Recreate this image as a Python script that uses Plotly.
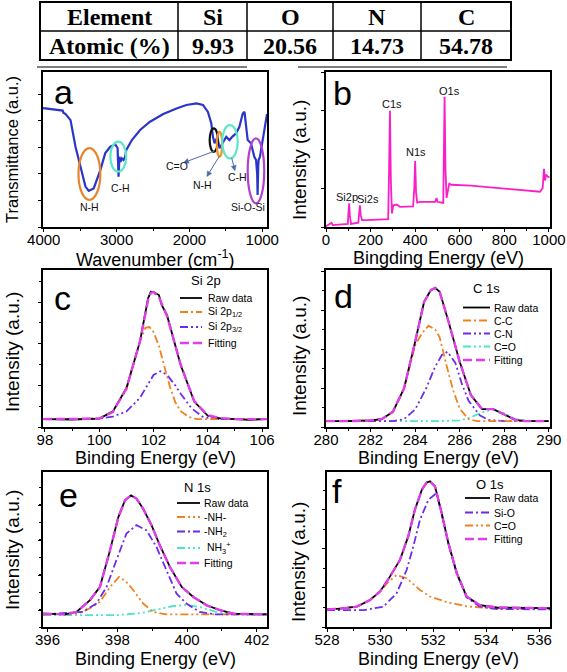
import math
import plotly.graph_objects as go

W, H = 567, 672
FONT = "Liberation Sans, Arial, sans-serif"
SERIF = "Liberation Serif, Times New Roman, serif"

# ---------------- table ----------------
table_header = ["Element", "Si", "O", "N", "C"]
table_row = ["Atomic (%)", "9.93", "20.56", "14.73", "54.78"]

# ---------------- (a) FTIR ----------------
ftir_wn = [4010, 3768, 3740, 3730, 3700, 3632, 3564, 3495, 3427, 3382, 3314, 3223, 3155, 3086, 3018,
           2986, 2973, 2960, 2946, 2927, 2905, 2882, 2868, 2790, 2677, 2541, 2359, 2177, 2041, 1904,
           1814, 1746, 1700, 1677, 1655, 1630, 1609, 1586, 1541, 1495, 1450, 1413, 1359, 1314, 1268,
           1244, 1200, 1155, 1109, 1085, 1070, 1064, 1055, 1050, 1032, 995, 950, 935]
ftir_t = [4.47, 4.40, 4.38, 4.30, 4.25, 4.02, 3.02, 2.27, 1.52, 1.36, 1.45, 2.14, 2.78, 3.02, 3.11,
          2.97, 1.89, 2.64, 2.45, 2.58, 2.52, 2.64, 2.89, 3.27, 3.65, 3.96, 4.25, 4.46, 4.59, 4.65,
          4.59, 4.33, 3.90, 3.39, 3.15, 3.30, 3.27, 2.96, 3.15, 3.39, 3.27, 3.39, 3.52, 3.77, 4.27,
          4.33, 3.27, 3.15, 2.64, 2.52, 2.00, 1.20, 2.30, 2.52, 2.64, 3.27, 4.10, 4.25]
ftir_labels = ["N-H", "C-H", "C=O", "N-H", "C-H", "Si-O-Si"]
ftir_label_wn = [3372, 2950, 2172, 1817, 1340, 1200]
ftir_label_t = [0.76, 1.47, 2.29, 1.58, 1.88, 0.75]
# ellipses: wn0, wn1, t0, t1, colour
ftir_ellipses = [(3523, 3223, 1.02, 2.97, "#e8842a"),
                 (3086, 2868, 2.08, 3.21, "#5ce8c8"),
                 (1722, 1609, 2.83, 3.71, "#111111"),
                 (1623, 1550, 2.64, 3.58, "#f0902a"),
                 (1550, 1336, 2.58, 3.83, "#5ce8c8"),
                 (1200, 973, 0.89, 3.33, "#b040d0")]
# arrows: head (wn, t), tail (wn, t)
ftir_arrows = [((2080, 2.42), (1660, 2.85)),
               ((1760, 1.90), (1590, 2.66)),
               ((1375, 2.12), (1420, 2.60))]

# ---------------- (b) survey ----------------
surv_be = [0, 3, 20, 25, 30, 60, 98, 101, 104, 107, 112, 145, 149, 152, 156, 162, 182, 230, 279, 283,
           287, 291, 296, 302, 317, 332, 391, 396, 400, 404, 409, 421, 470, 490, 496, 500, 526, 529,
           532, 536, 541, 553, 562, 650, 735, 850, 960, 972, 978, 983, 987, 997, 1003]
surv_i = [0.02, 0.03, 0.08, 0.11, 0.05, 0.06, 0.08, 0.40, 0.61, 0.30, 0.08, 0.11, 0.40, 0.56, 0.30,
          0.18, 0.18, 0.19, 0.20, 1.50, 3.00, 1.20, 0.35, 0.56, 0.58, 0.52, 0.53, 1.00, 1.70, 0.90,
          0.63, 0.65, 0.66, 0.65, 0.75, 0.65, 0.62, 2.00, 3.36, 1.50, 0.75, 1.12, 1.09, 1.07, 1.03,
          0.98, 0.91, 1.00, 1.50, 1.20, 1.35, 1.29, 1.30]
surv_labels = ["Si2p", "Si2s", "C1s", "N1s", "O1s"]
surv_label_be = [93, 190, 295, 404, 553]
surv_label_i = [0.78, 0.71, 3.17, 1.93, 3.51]

# ---------------- (c) Si 2p ----------------
si_be = [97.93, 99.0, 100.0, 100.5, 101.0, 101.5, 101.8, 101.9, 102.0, 102.2, 102.3, 102.5, 103.0,
         103.5, 104.0, 104.5, 105.0, 105.5, 106.18]
si_raw = [0.19, 0.18, 0.20, 0.37, 0.93, 2.05, 3.09, 3.25, 3.24, 3.17, 2.93, 2.68, 1.49, 0.61, 0.27,
          0.20, 0.19, 0.17, 0.19]
si_fit = [0.19, 0.19, 0.20, 0.36, 0.92, 2.05, 3.05, 3.22, 3.24, 3.12, 2.98, 2.66, 1.50, 0.62, 0.28,
          0.21, 0.19, 0.19, 0.19]
si_p12_be = [97.93, 100.0, 100.5, 101.0, 101.3, 101.5, 101.7, 101.85, 102.0, 102.2, 102.4, 102.6,
             102.8, 103.0, 103.3, 103.6, 106.18]
si_p12 = [0.19, 0.20, 0.38, 0.90, 1.60, 2.05, 2.38, 2.40, 2.28, 1.95, 1.45, 0.98, 0.60, 0.38, 0.24,
          0.19, 0.19]
si_p32_be = [97.93, 100.0, 100.5, 101.0, 101.5, 101.8, 102.0, 102.25, 102.5, 102.8, 103.0, 103.4,
             103.8, 104.2, 106.18]
si_p32 = [0.19, 0.20, 0.25, 0.37, 0.70, 1.05, 1.25, 1.34, 1.25, 1.00, 0.80, 0.45, 0.25, 0.19, 0.19]

# ---------------- (d) C 1s ----------------
c_be = [280, 281, 282, 282.5, 283, 283.5, 284, 284.4, 284.7, 284.9, 285.1, 285.5, 286, 286.5, 287,
        287.5, 288, 288.5, 289, 290]
c_raw = [0.15, 0.15, 0.17, 0.20, 0.39, 0.99, 2.19, 3.21, 3.51, 3.57, 3.47, 2.70, 1.67, 0.82, 0.46,
         0.46, 0.32, 0.18, 0.15, 0.15]
c_cc_be = [280, 282, 282.5, 283, 283.5, 284, 284.3, 284.6, 284.9, 285.1, 285.4, 285.7, 286.0, 286.4,
           286.8, 290]
c_cc = [0.15, 0.17, 0.20, 0.39, 0.98, 2.10, 2.40, 2.60, 2.50, 2.30, 1.60, 0.95, 0.47, 0.20, 0.15, 0.15]
c_cn_be = [280, 283, 283.5, 284, 284.5, 284.9, 285.2, 285.45, 285.8, 286.1, 286.4, 286.9, 287.3, 288, 290]
c_cn = [0.15, 0.15, 0.20, 0.45, 1.00, 1.55, 1.85, 1.93, 1.65, 1.10, 0.67, 0.30, 0.18, 0.15, 0.15]
c_co_be = [280, 285, 286, 286.5, 287, 287.5, 288, 288.5, 289, 290]
c_co = [0.15, 0.15, 0.17, 0.25, 0.38, 0.45, 0.35, 0.20, 0.16, 0.15]

# ---------------- (e) N 1s ----------------
n_be = [395.87, 396.5, 396.83, 397.21, 397.5, 397.79, 398.03, 398.22, 398.39, 398.55, 398.74, 398.98,
        399.22, 399.51, 399.85, 400.18, 400.56, 400.94, 401.33, 401.9, 402.29]
n_raw = [0.38, 0.36, 0.43, 0.76, 1.14, 2.19, 3.14, 3.62, 3.76, 3.67, 3.38, 2.91, 2.33, 1.71, 1.14,
         0.86, 0.62, 0.48, 0.38, 0.38, 0.36]
n_nh_be = [395.87, 396.8, 397.0, 397.3, 397.5, 397.8, 398.05, 398.25, 398.46, 398.74, 399.03, 399.4, 402.29]
n_nh = [0.36, 0.38, 0.43, 0.58, 0.72, 1.15, 1.43, 1.30, 1.05, 0.67, 0.43, 0.36, 0.36]
n_nh2_be = [395.87, 397.0, 397.4, 397.69, 397.97, 398.26, 398.55, 398.84, 399.12, 399.41, 399.70,
            399.98, 400.36, 400.8, 402.29]
n_nh2 = [0.36, 0.43, 0.67, 1.14, 1.90, 2.67, 2.91, 2.76, 2.29, 1.62, 0.95, 0.67, 0.43, 0.36, 0.36]
n_nh3_be = [395.87, 398.0, 398.7, 399.2, 399.6, 400.0, 400.4, 400.8, 401.3, 402.29]
n_nh3 = [0.34, 0.34, 0.40, 0.52, 0.60, 0.63, 0.56, 0.44, 0.36, 0.34]

# ---------------- (f) O 1s ----------------
o_be = [528.0, 528.5, 529.12, 529.62, 530.0, 530.37, 530.75, 531.06, 531.31, 531.57, 531.75, 531.88,
        532.07, 532.32, 532.57, 532.89, 533.26, 533.76, 534.39, 535.5, 536.4]
o_raw = [0.45, 0.47, 0.52, 0.69, 0.91, 1.29, 1.72, 2.32, 3.00, 3.51, 3.70, 3.73, 3.60, 2.92, 2.15,
         1.38, 0.78, 0.56, 0.50, 0.48, 0.48]
o_sio_be = [528.0, 529.37, 530.12, 530.62, 531.0, 531.25, 531.5, 531.82, 532.13, 532.32, 532.57,
            532.89, 533.26, 533.76, 534.4, 536.4]
o_sio = [0.43, 0.43, 0.52, 0.86, 1.46, 2.06, 2.74, 3.26, 3.43, 2.90, 2.15, 1.36, 0.76, 0.52, 0.46, 0.45]
o_co_be = [528.0, 529.12, 529.62, 530.0, 530.3, 530.62, 531.0, 531.5, 531.88, 532.5, 533.26, 534.14, 536.4]
o_co = [0.45, 0.52, 0.69, 0.91, 1.15, 1.33, 1.25, 0.95, 0.78, 0.64, 0.53, 0.48, 0.46]

# ---------------- styles ----------------
BLACK = "#000000"
FIT = "#e03ee8"
ORANGE = "#f0821e"
PURPLE = "#6b2cf0"
CYAN = "#4de6c3"
DASH_FIT = "9px,4px"
DASH_DD = "8px,3px,2px,3px"
DASH_DDD = "8px,3px,2px,3px,2px,3px"


def PX(x):
    return x / W


def PY(y):
    return 1 - y / H


# panel boxes in pixels: (x0, x1, y_top, y_bottom)
boxes = {
    1: (43, 267, 72, 227),
    2: (326, 550, 72, 227),
    3: (43, 267, 270, 427),
    4: (326, 550, 270, 427),
    5: (43, 267, 472, 627),
    6: (327, 550, 472, 627),
}

fig = go.Figure()


def add(n, x, y, color, width, dash="solid"):
    fig.add_trace(go.Scatter(x=x, y=y, mode="lines", showlegend=False, hoverinfo="skip",
                             line=dict(color=color, width=width, dash=dash),
                             xaxis="x" if n == 1 else f"x{n}", yaxis="y" if n == 1 else f"y{n}"))


# (a)
add(1, ftir_wn, ftir_t, "#2b35c9", 2.2)
# (b)
add(2, surv_be, surv_i, "#f81fc8", 1.8)
# (c)
add(3, si_p32_be, si_p32, PURPLE, 1.8, DASH_DDD)
add(3, si_p12_be, si_p12, ORANGE, 1.8, DASH_DD)
add(3, si_be, si_raw, BLACK, 1.8)
add(3, si_be, si_fit, FIT, 2.4, DASH_FIT)
# (d)
add(4, c_co_be, c_co, CYAN, 1.8, DASH_DDD)
add(4, c_cn_be, c_cn, PURPLE, 1.8, DASH_DDD)
add(4, c_cc_be, c_cc, ORANGE, 1.8, DASH_DD)
add(4, c_be, c_raw, BLACK, 1.8)
add(4, c_be, c_raw, FIT, 2.4, DASH_FIT)
# (e)
add(5, n_nh3_be, n_nh3, CYAN, 1.8, DASH_DDD)
add(5, n_nh_be, n_nh, ORANGE, 1.8, DASH_DDD)
add(5, n_nh2_be, n_nh2, PURPLE, 1.8, DASH_DD)
add(5, n_be, n_raw, BLACK, 1.8)
add(5, n_be, n_raw, FIT, 2.4, DASH_FIT)
# (f)
add(6, o_co_be, o_co, ORANGE, 1.8, DASH_DDD)
add(6, o_sio_be, o_sio, PURPLE, 1.8, DASH_DD)
add(6, o_be, o_raw, BLACK, 1.8)
add(6, o_be, o_raw, FIT, 2.4, DASH_FIT)

axis_common = dict(showline=True, linecolor="black", linewidth=1.8, mirror=True, ticks="outside",
                   ticklen=3, tickwidth=1.4, tickcolor="black", showgrid=False, zeroline=False,
                   automargin=False, tickfont=dict(family=FONT, size=15, color="black"))

x_specs = {
    1: dict(range=[4010, 935], tickvals=[4000, 3000, 2000, 1000], minor=dict(dtick=500)),
    2: dict(range=[0, 1005], dtick=200, tick0=0, minor=dict(dtick=100)),
    3: dict(range=[97.93, 106.18], dtick=2, tick0=98, minor=dict(dtick=1)),
    4: dict(range=[280, 290.05], dtick=2, tick0=280, minor=dict(dtick=1)),
    5: dict(range=[395.87, 402.29], dtick=2, tick0=396, minor=dict(dtick=1)),
    6: dict(range=[528, 536.4], dtick=2, tick0=528, minor=dict(dtick=1)),
}
y_specs = {
    1: dict(range=[0, 5.83], dtick=1, tick0=0),
    2: dict(range=[0, 4.0], dtick=1, tick0=0),
    3: dict(range=[0, 3.77], dtick=1, tick0=0, minor=dict(dtick=0.5)),
    4: dict(range=[0, 4.03], dtick=1, tick0=0, minor=dict(dtick=0.5)),
    5: dict(range=[0, 4.43], dtick=1, tick0=0.47, minor=dict(dtick=0.5)),
    6: dict(range=[0, 3.97], dtick=1, tick0=0, minor=dict(dtick=0.5)),
}

layout = dict(width=W, height=H, margin=dict(l=0, r=0, t=0, b=0, pad=0, autoexpand=False),
              plot_bgcolor="white", paper_bgcolor="white", showlegend=False)
for n, (x0, x1, yt, yb) in boxes.items():
    xs = dict(axis_common)
    xs.update(x_specs[n])
    mn = dict(ticks="outside", ticklen=2.5, tickwidth=1, tickcolor="black")
    mn.update(xs.get("minor", {}))
    xs["minor"] = mn
    xs["ticklabelstandoff"] = -5
    xs["domain"] = [PX(x0), PX(x1)]
    xs["anchor"] = "y" if n == 1 else f"y{n}"
    ys = dict(axis_common)
    ys.update(y_specs[n])
    ys["showticklabels"] = False
    if "minor" in ys:
        m2 = dict(ticks="outside", ticklen=2.5, tickwidth=1, tickcolor="black")
        m2.update(ys["minor"])
        ys["minor"] = m2
    ys["domain"] = [PY(yb), PY(yt)]
    ys["anchor"] = "x" if n == 1 else f"x{n}"
    layout["xaxis" if n == 1 else f"xaxis{n}"] = xs
    layout["yaxis" if n == 1 else f"yaxis{n}"] = ys
fig.update_layout(**layout)

shapes = []
ann = []


def text(x, y, s, size, family=FONT, xanchor="center", yanchor="middle", angle=0, color="black", **kw):
    ann.append(dict(x=PX(x), y=PY(y), xref="paper", yref="paper", text=s, showarrow=False,
                    xanchor=xanchor, yanchor=yanchor, textangle=angle,
                    font=dict(family=family, size=size, color=color), **kw))


# ---- table ----
tx0, tx1, ty0, ty1, tym = 40, 511, 2, 60, 31
col_edges = [40, 178, 247, 333, 421, 511]
shapes.append(dict(type="rect", xref="paper", yref="paper", x0=PX(tx0), x1=PX(tx1), y0=PY(ty1), y1=PY(ty0),
                   line=dict(color="black", width=2)))
shapes.append(dict(type="line", xref="paper", yref="paper", x0=PX(tx0), x1=PX(tx1), y0=PY(tym), y1=PY(tym),
                   line=dict(color="black", width=1.5)))
for xe in col_edges[1:-1]:
    shapes.append(dict(type="line", xref="paper", yref="paper", x0=PX(xe), x1=PX(xe), y0=PY(ty1), y1=PY(ty0),
                       line=dict(color="black", width=1.5)))
for i in range(5):
    cx = (col_edges[i] + col_edges[i + 1]) / 2
    text(cx, 17, f"<b>{table_header[i]}</b>", 24, family=SERIF)
    text(cx, 46, f"<b>{table_row[i]}</b>", 24, family=SERIF)
# stray rule lines under the table
for (a0, a1) in [(37, 247), (298, 507)]:
    shapes.append(dict(type="line", xref="paper", yref="paper", x0=PX(a0), x1=PX(a1), y0=PY(67), y1=PY(67),
                       line=dict(color="black", width=1.2)))

# ---- panel (a) decorations ----
ax_a = x_specs[1]["range"]
ay_a = y_specs[1]["range"]
bx0, bx1, byt, byb = boxes[1]


def a_pix(wn, t):
    px = bx0 + (wn - ax_a[0]) / (ax_a[1] - ax_a[0]) * (bx1 - bx0)
    py = byb - (t - ay_a[0]) / (ay_a[1] - ay_a[0]) * (byb - byt)
    return px, py


for (w0, w1, t0, t1, col) in ftir_ellipses:
    shapes.append(dict(type="circle", xref="x", yref="y", x0=w0, x1=w1, y0=t0, y1=t1,
                       line=dict(color=col, width=2.2)))
for lab, wx, ty in zip(ftir_labels, ftir_label_wn, ftir_label_t):
    ann.append(dict(x=wx, y=ty, xref="x", yref="y", text=lab, showarrow=False,
                    font=dict(family=FONT, size=10.5, color="#111111")))
ARROW = "#4a6aa8"
for (hw, ht), (tw, tt) in ftir_arrows:
    hx, hy = a_pix(hw, ht)
    tx, ty = a_pix(tw, tt)
    dx, dy = hx - tx, hy - ty
    L = math.hypot(dx, dy)
    ux, uy = dx / L, dy / L
    bxp, byp = hx - 5 * ux, hy - 5 * uy
    shapes.append(dict(type="line", xref="paper", yref="paper", x0=PX(tx), y0=PY(ty), x1=PX(bxp), y1=PY(byp),
                       line=dict(color=ARROW, width=1)))
    p1 = (bxp - 2.5 * uy, byp + 2.5 * ux)
    p2 = (bxp + 2.5 * uy, byp - 2.5 * ux)
    path = f"M {PX(hx)},{PY(hy)} L {PX(p1[0])},{PY(p1[1])} L {PX(p2[0])},{PY(p2[1])} Z"
    shapes.append(dict(type="path", xref="paper", yref="paper", path=path, fillcolor=ARROW,
                       line=dict(color=ARROW, width=0.5)))

# ---- panel (b) labels ----
for lab, bx, iy in zip(surv_labels, surv_label_be, surv_label_i):
    ann.append(dict(x=bx, y=iy, xref="x2", yref="y2", text=lab, showarrow=False,
                    font=dict(family=FONT, size=11, color="#111111")))

# ---- panel letters ----
for s, (x, y) in zip("abcdef", [(63, 92), (342, 93), (62, 298), (343, 296), (68, 495), (337, 491)]):
    text(x, y, s, 34)

# ---- axis titles ----
text(155, 258, "Wavenumber (cm<sup>-1</sup>)", 18)
text(438, 258, "Bingding Energy (eV)", 18)
for cx in (155, 438):
    text(cx, 458, "Binding Energy (eV)", 18)
    text(cx, 659, "Binding Energy (eV)", 18)
text(12, 150, "Transmittance (a.u.)", 16.5, angle=-90)
text(299, 160, "Intensity (a.u.)", 19, angle=-90)
text(12, 352, "Intensity (a.u.)", 19, angle=-90)
text(299, 356, "Intensity (a.u.)", 19, angle=-90)
text(12, 550, "Intensity (a.u.)", 19, angle=-90)
text(298, 562, "Intensity (a.u.)", 19, angle=-90)


# ---- manual legends ----
def legend(title_xy, x0, x1, tx, rows):
    text(title_xy[0], title_xy[1], title_xy[2], 13)
    for (yy, lab, col, dash, wdt) in rows:
        shapes.append(dict(type="line", xref="paper", yref="paper", x0=PX(x0), x1=PX(x1), y0=PY(yy), y1=PY(yy),
                           line=dict(color=col, width=wdt, dash=dash)))
        text(tx, yy, lab, 10.5, xanchor="left")


legend((206, 280, "Si 2p"), 180, 202, 206, [
    (298, "Raw data", BLACK, "solid", 1.8),
    (312, "Si 2p<sub>1/2</sub>", ORANGE, DASH_DD, 1.8),
    (327, "Si 2p<sub>3/2</sub>", PURPLE, DASH_DDD, 1.8),
    (343, "Fitting", FIT, DASH_FIT, 2.4)])
legend((486, 288, "C 1s"), 463, 490, 492, [
    (307.5, "Raw data", BLACK, "solid", 1.8),
    (320.5, "C-C", ORANGE, DASH_DD, 1.8),
    (333.5, "C-N", PURPLE, DASH_DDD, 1.8),
    (346.5, "C=O", CYAN, DASH_DDD, 1.8),
    (360, "Fitting", FIT, DASH_FIT, 2.4)])
legend((197, 487, "N 1s"), 177, 200, 202, [
    (503, "Raw data", BLACK, "solid", 1.8),
    (517, "-NH-", ORANGE, DASH_DDD, 1.8),
    (531.5, "-NH<sub>2</sub>", PURPLE, DASH_DD, 1.8),
    (548, " NH<sub>3</sub><sup>+</sup>", CYAN, DASH_DDD, 1.8),
    (563, "Fitting", FIT, DASH_FIT, 2.4)])
legend((490, 484, "O 1s"), 465, 490, 492, [
    (498, "Raw data", BLACK, "solid", 1.8),
    (512.5, "Si-O", PURPLE, DASH_DD, 1.8),
    (525.5, "C=O", ORANGE, DASH_DDD, 1.8),
    (539, "Fitting", FIT, DASH_FIT, 2.4)])

fig.update_layout(shapes=shapes, annotations=ann)
fig.write_html("out.html", config={"displayModeBar": False},
               post_script="document.body.style.margin='0';")
